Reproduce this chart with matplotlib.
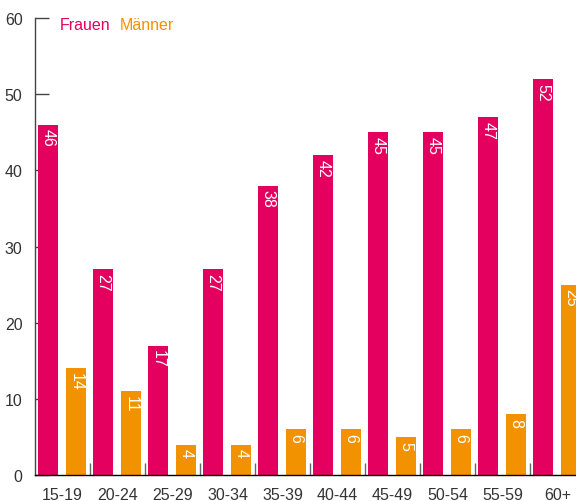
import matplotlib
matplotlib.use("Agg")
import matplotlib.pyplot as plt
import numpy as np

plt.rcParams['font.family'] = ['Liberation Sans', 'DejaVu Sans']

categories = ["15-19", "20-24", "25-29", "30-34", "35-39", "40-44", "45-49", "50-54", "55-59", "60+"]
frauen = [46, 27, 17, 27, 38, 42, 45, 45, 47, 52]
maenner = [14, 11, 4, 4, 6, 6, 5, 6, 8, 25]

PINK = "#E3005F"
ORANGE = "#F39200"

fig = plt.figure(figsize=(5.76, 5.02), dpi=100)
ax = fig.add_axes([35/576, 26/502, 550/576, 457/502])

x = np.arange(len(categories))
w = 20/55
ax.bar(x + 3/55, frauen, width=w, align='edge', color=PINK, zorder=2)
ax.bar(x + 31/55, maenner, width=w, align='edge', color=ORANGE, zorder=2)

for i, (f, m) in enumerate(zip(frauen, maenner)):
    ax.text(i + 13/55, f - 0.5, str(f), rotation=270, ha='center', va='top',
            color='white', fontsize=11.5, zorder=3)
    ax.text(i + 41/55, m - 0.5, str(m), rotation=270, ha='center', va='top',
            color='white', fontsize=11.5, zorder=3)

ax.set_xlim(0, 10)
ax.set_ylim(0, 60)
ax.spines['top'].set_visible(False)
ax.spines['right'].set_visible(False)
ax.spines['left'].set_color('#444444')
ax.spines['left'].set_linewidth(1.0)
ax.spines['bottom'].set_color('black')
ax.spines['bottom'].set_linewidth(1.0)

ax.set_yticks([0, 10, 20, 30, 40, 50, 60])
ax.tick_params(axis='y', direction='in', length=10, width=1, color='#444444',
               labelsize=11.5, labelcolor='#333333', pad=9)
ax.set_xticks(x + 0.5)
ax.set_xticklabels(categories)
ax.tick_params(axis='x', which='major', length=0, labelsize=11.5, labelcolor='#333333', pad=9)
ax.set_xticks(np.arange(1, 10), minor=True)
ax.tick_params(axis='x', which='minor', direction='in', length=9, width=1, color='#666666')

ax.text(25/550, 0.985, "Frauen", transform=ax.transAxes, color=PINK, fontsize=11.5, va='center', ha='left')
ax.text(85/550, 0.985, "Männer", transform=ax.transAxes, color=ORANGE, fontsize=11.5, va='center', ha='left')

fig.savefig("out.png", dpi=100)
